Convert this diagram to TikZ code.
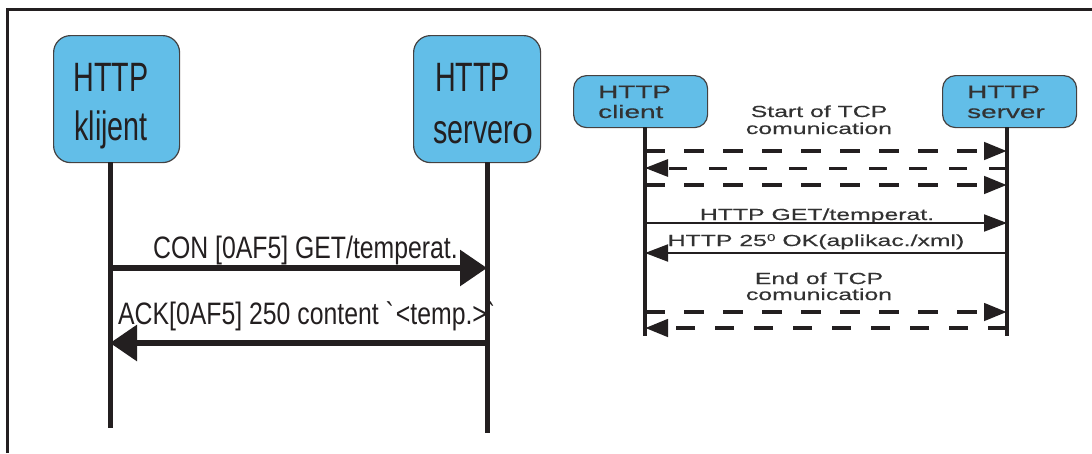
\documentclass[tikz,border=0pt]{standalone}
\usepackage{fontspec}
\usetikzlibrary{arrows.meta}
\newfontfamily\narrowsans[FakeStretch=0.8]{Liberation Sans}
\newfontfamily\boxsans[FakeStretch=0.7]{Liberation Sans}
\newfontfamily\widesans[FakeStretch=1.55,FakeBold=0.4]{Liberation Sans}
\newfontfamily\serifo{Liberation Serif}
\definecolor{boxblue}{RGB}{98,190,232}
\definecolor{ink}{RGB}{35,31,32}
\definecolor{greytext}{RGB}{50,50,50}
\begin{document}
\begin{tikzpicture}[x=1pt,y=-1pt,
  bigbox/.style={draw=ink!85, line width=1.2pt, fill=boxblue, rounded corners=17pt, inner sep=0pt},
  smallbox/.style={draw=ink!85, line width=1.2pt, fill=boxblue, rounded corners=13pt, inner sep=0pt},
  bigtxt/.style={inner sep=0pt, font=\boxsans\fontsize{41}{41}\selectfont, text=ink},
  lbltxt/.style={inner sep=0pt, font=\narrowsans\fontsize{31}{31}\selectfont, text=ink},
  wtxt/.style={inner sep=0pt, font=\widesans\fontsize{18}{18}\selectfont, text=greytext},
  stxt/.style={inner sep=0pt, font=\widesans\fontsize{16}{16}\selectfont, text=greytext},
  bigline/.style={draw=ink, line width=5pt},
  smline/.style={draw=ink, line width=4.5pt},
  bigmsg/.style={draw=ink, line width=6pt, -{Triangle[length=27pt,width=35pt]}},
  thinmsg/.style={draw=ink, line width=2pt, -{Triangle[length=23pt,width=17pt]}},
  dashmsg/.style={draw=ink, line width=4.5pt, dash pattern=on 19.5pt off 19.5pt, -{Triangle[length=23pt,width=17pt]}},
  dashthin/.style={draw=ink, line width=3pt, dash pattern=on 18pt off 22pt, -{Triangle[length=23pt,width=17pt]}}
]
\useasboundingbox (0,0) rectangle (1092,453);
% frame
\draw[ink, line width=3pt] (7,453) -- (7,9) -- (1092,9);

% ---------------- left diagram ----------------
\node[bigbox, anchor=north west, minimum width=126pt, minimum height=127pt] (cbox) at (53,35) {};
\node[bigbox, anchor=north west, minimum width=127pt, minimum height=127pt] (sbox) at (413,35) {};
\node[bigtxt, anchor=base] (ct1) at (111,91) {HTTP};
\node[bigtxt, anchor=base] (ct2) at (111,140) {klijent};
\node[bigtxt, anchor=base west] (st1) at (435,91) {HTTP};
\node[bigtxt, anchor=base west] (st2) at (433,143) {server{\serifo\fontsize{42}{42}\selectfont o}};

\coordinate (ctop) at (110,162);
\coordinate (cbot) at (110,428);
\coordinate (stop) at (487,162);
\coordinate (sbot) at (487,433);
\draw[bigline] (ctop) -- (cbot);
\draw[bigline] (stop) -- (sbot);

\draw[bigmsg] (ctop |- 0,268) -- (stop |- 0,268);
\node[lbltxt, anchor=base west] (m1) at (153,258) {CON [0AF5] GET/temperat.};
\draw[bigmsg] (stop |- 0,343) -- (ctop |- 0,343);
\node[lbltxt, anchor=base west] (m2) at (118,324) {ACK[0AF5] 250 content \textasciigrave<temp.>\textasciigrave};

% ---------------- right diagram ----------------
\node[smallbox, anchor=north west, minimum width=134pt, minimum height=52pt] (rc) at (573,75) {};
\node[smallbox, anchor=north west, minimum width=134pt, minimum height=52pt] (rs) at (942,75) {};
\node[wtxt, anchor=base west] (rc1) at (598,98) {HTTP};
\node[wtxt, anchor=base west] (rc2) at (598,118) {client};
\node[wtxt, anchor=base west] (rs1) at (967,98) {HTTP};
\node[wtxt, anchor=base west] (rs2) at (967,118) {server};

\coordinate (rctop) at (645,127);
\coordinate (rcbot) at (645,336);
\coordinate (rstop) at (1007,127);
\coordinate (rsbot) at (1007,336);
\draw[smline] (rctop) -- (rcbot);
\draw[smline] (rstop) -- (rsbot);

\node[stxt, anchor=base] (t1) at (819,117) {Start of TCP};
\node[stxt, anchor=base] (t2) at (819,134) {comunication};
\draw[dashmsg] (rctop |- 0,151) -- (rstop |- 0,151);
\draw[dashthin] (rstop |- 0,168) -- (rctop |- 0,168);
\draw[dashmsg] (rctop |- 0,185) -- (rstop |- 0,185);

\node[stxt, anchor=base] (t3) at (817,220) {HTTP GET/temperat.};
\draw[thinmsg] (rctop |- 0,223) -- (rstop |- 0,223);
\node[stxt, anchor=base] (t4) at (816,246) {HTTP 25\raisebox{5pt}{\fontsize{10}{10}\selectfont 0} OK(aplikac./xml)};
\draw[thinmsg] (rstop |- 0,253) -- (rctop |- 0,253);

\node[stxt, anchor=base] (t5) at (819,284) {End of TCP};
\node[stxt, anchor=base] (t6) at (819,300) {comunication};
\draw[dashmsg] (rctop |- 0,312) -- (rstop |- 0,312);
\draw[dashmsg] (rstop |- 0,328) -- (rctop |- 0,328);
\end{tikzpicture}
\end{document}
